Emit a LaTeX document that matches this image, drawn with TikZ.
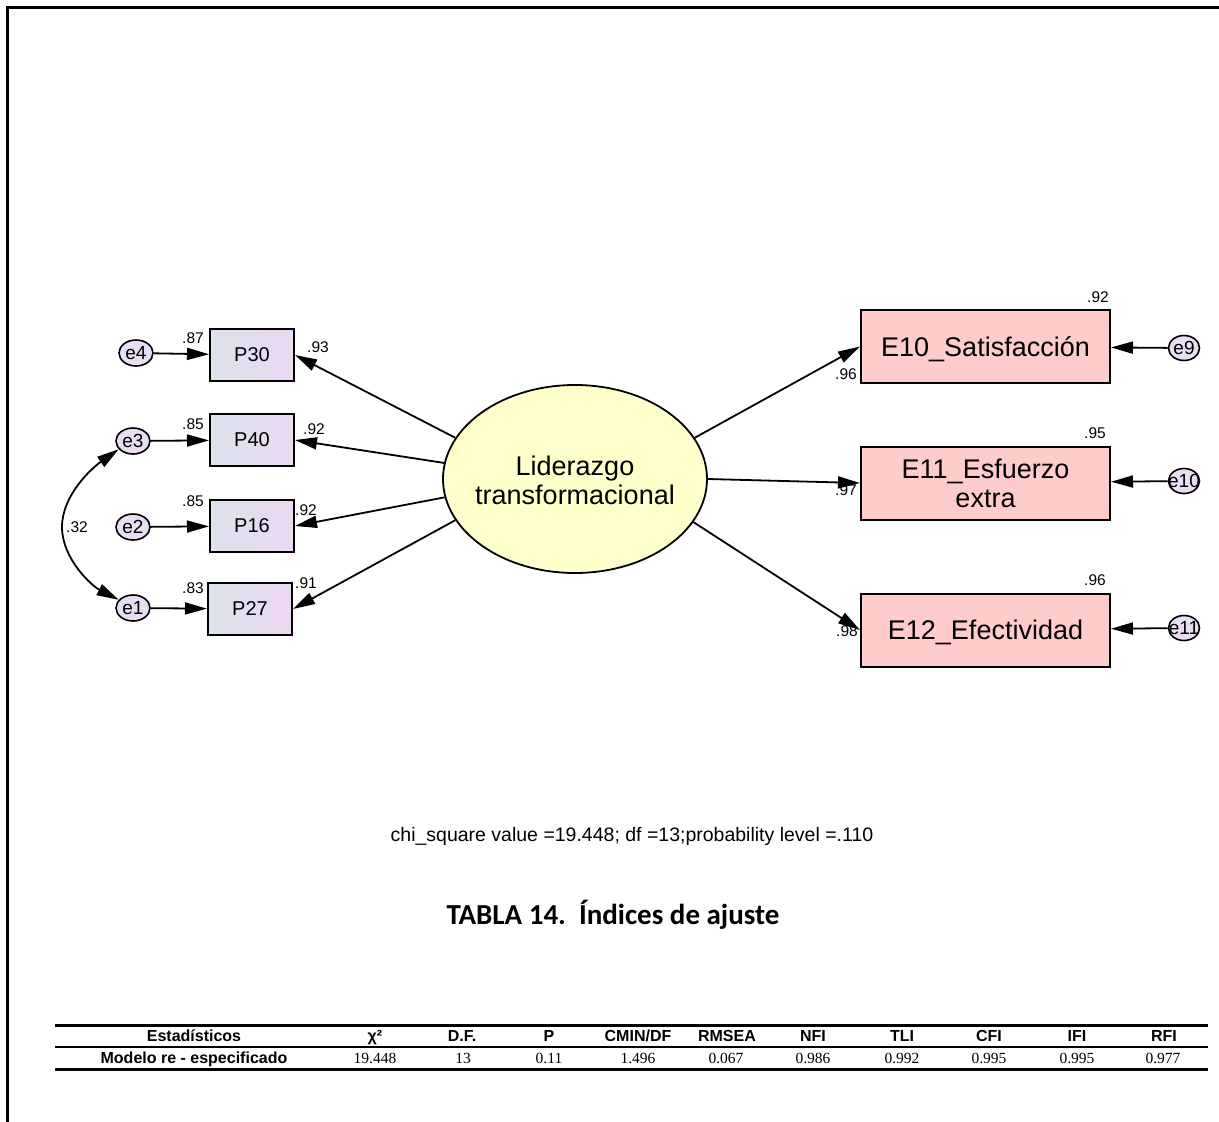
\documentclass[tikz,border=0pt]{standalone}
\usepackage{fontspec}
\setmainfont{Liberation Sans}
\newfontfamily\timesf{Liberation Serif}
\newfontfamily\carlitof{Carlito}
\usetikzlibrary{arrows.meta,shapes.geometric}
\definecolor{pleft}{HTML}{DCE3EC}
\definecolor{pright}{HTML}{ECD8F2}
\definecolor{errc}{HTML}{E8DDF3}
\definecolor{pinkc}{HTML}{FFCCCC}
\definecolor{yelc}{HTML}{FFFFCC}
\begin{document}
\begin{tikzpicture}[x=1pt,y=-1pt,
  obs/.style={draw, line width=2pt, minimum width=84pt, minimum height=52pt, inner sep=0pt, left color=pleft, right color=pright, font=\fontsize{20}{22}\selectfont},
  ebox/.style={draw, line width=2pt, minimum width=249pt, minimum height=73pt, inner sep=0pt, fill=pinkc, align=center, font=\fontsize{27}{29}\selectfont},
  err/.style={draw, ellipse, line width=1.6pt, fill=errc, minimum width=34pt, minimum height=26pt, inner sep=0pt},
  errtxt/.style={inner sep=0pt, font=\fontsize{19}{20}\selectfont},
  lat/.style={draw, ellipse, line width=1.8pt, fill=yelc, minimum width=264pt, minimum height=188pt, inner sep=0pt},
  lattxt/.style={inner sep=0pt, align=center, font=\fontsize{27}{29}\selectfont},
  coef/.style={inner sep=0pt, font=\fontsize{15.5}{17}\selectfont},
  arr/.style={line width=1.8pt, -{Triangle[length=22pt,width=12pt]}},
  cov/.style={line width=1.8pt, {Triangle[length=22pt,width=12pt]}-{Triangle[length=22pt,width=12pt]}},
  hd/.style={anchor=base, inner sep=0pt, font=\fontsize{16}{18}\selectfont\bfseries},
  vl/.style={anchor=base, inner sep=0pt, font=\timesf\fontsize{15.5}{17}\selectfont},
]
\useasboundingbox (0,0) rectangle (1219,1122);
% frame
\draw[line width=3pt] (7,1122) -- (7,7) -- (1219,7);

% latent
\node[lat] (F) at (575,479) {};
\node[lattxt] (Ft) at (575,480) {Liderazgo\\transformacional};

% observed left
\node[obs] (P30) at (252,355) {P30};
\node[obs] (P40) at (252,440) {P40};
\node[obs] (P16) at (252,526) {P16};
\node[obs] (P27) at (250,609) {P27};

% errors left
\node[err] (e4) at (136,353) {};
\node[errtxt] (e4t) at (e4) {e4};
\node[err] (e3) at (133,441) {};
\node[errtxt] (e3t) at (e3) {e3};
\node[err] (e2) at (133,527) {};
\node[errtxt] (e2t) at (e2) {e2};
\node[err] (e1) at (133,608) {};
\node[errtxt] (e1t) at (e1) {e1};

% right boxes
\node[ebox, text height=19.5pt, text depth=0pt] (E10) at (985.5,346.5) {E10\_Satisfacción};
\node[ebox] (E11) at (985.5,483) {E11\_Esfuerzo\\extra};
\node[ebox, text height=19.5pt, text depth=0pt] (E12) at (985.5,630) {E12\_Efectividad};

% errors right
\node[err, minimum width=31pt, minimum height=25pt] (e9) at (1184,348) {};
\node[errtxt] (e9t) at (e9) {e9};
\node[err, minimum width=31pt, minimum height=25pt] (e10) at (1184,481) {};
\node[errtxt] (e10t) at (e10) {e10};
\node[err, minimum width=31pt, minimum height=25pt] (e11) at (1184,628) {};
\node[errtxt] (e11t) at (e11) {e11};

% connectors
\draw[arr] (e4) -- (P30);
\draw[arr] (e3) -- (P40);
\draw[arr] (e2) -- (P16);
\draw[arr] (e1) -- (P27);
\draw[arr] (F.161) -- (P30.east);
\draw[arr] (F.173) -- (P40.east);
\draw[arr] (F.188) -- (P16.east);
\draw[arr] (F.199) -- (P27.east);
\draw[arr] (F.19) -- (E10.west);
\draw[arr] (F.0) -- (E11.west);
\draw[arr] (F.340) -- (E12.west);
\draw[arr] (e9) -- (E10);
\draw[arr] (e10) -- (E11);
\draw[arr] (e11) -- (E12);
\coordinate (cmid) at (62,527);
\draw[cov] (e3.210) .. controls (92,468) and (62,495) .. (cmid) .. controls (62,559) and (92,586) .. (e1.150);

% coefficients
\node[coef] (c1) at (193,338) {.87};
\node[coef] (c2) at (318,347) {.93};
\node[coef] (c3) at (193,424) {.85};
\node[coef] (c4) at (314,429) {.92};
\node[coef] (c5) at (193,501) {.85};
\node[coef] (c6) at (306,510) {.92};
\node[coef] (c7) at (193,588) {.83};
\node[coef] (c8) at (306,583) {.91};
\node[coef] (c9) at (77,527) {.32};
\node[coef] (c10) at (1098,297) {.92};
\node[coef] (c11) at (846,374) {.96};
\node[coef] (c12) at (1095,433) {.95};
\node[coef] (c13) at (846,490) {.97};
\node[coef] (c14) at (1095,580) {.96};
\node[coef] (c15) at (847,631) {.98};

% texts
\node[inner sep=0pt, font=\fontsize{19.5}{21}\selectfont] (chi) at (632,836) {chi\_square value =19.448; df =13;probability level =.110};
\node[inner sep=0pt, font=\carlitof\bfseries\fontsize{29}{31}\selectfont] (title) at (613,915) {TABLA 14.\ \ Índices de ajuste};

% table
\draw[line width=3pt] (55,1025) -- (1208,1025);
\draw[line width=2pt] (55,1047) -- (1208,1047);
\draw[line width=3pt] (55,1069) -- (1208,1069);
\node[hd] (h1) at (194,1041.5) {Estadísticos};
\node[hd] (h2) at (375,1041.5) {χ²};
\node[hd] (h3) at (462,1041.5) {D.F.};
\node[hd] (h4) at (549,1041.5) {P};
\node[hd] (h5) at (638,1041.5) {CMIN/DF};
\node[hd] (h6) at (727,1041.5) {RMSEA};
\node[hd] (h7) at (813,1041.5) {NFI};
\node[hd] (h8) at (902,1041.5) {TLI};
\node[hd] (h9) at (989,1041.5) {CFI};
\node[hd] (h10) at (1077,1041.5) {IFI};
\node[hd] (h11) at (1164,1041.5) {RFI};
\node[hd] (r1) at (194,1063.5) {Modelo re - especificado};
\node[vl] (v2) at (375,1063.5) {19.448};
\node[vl] (v3) at (463,1063.5) {13};
\node[vl] (v4) at (549,1063.5) {0.11};
\node[vl] (v5) at (638,1063.5) {1.496};
\node[vl] (v6) at (726,1063.5) {0.067};
\node[vl] (v7) at (813,1063.5) {0.986};
\node[vl] (v8) at (902,1063.5) {0.992};
\node[vl] (v9) at (989,1063.5) {0.995};
\node[vl] (v10) at (1077,1063.5) {0.995};
\node[vl] (v11) at (1163,1063.5) {0.977};
\end{tikzpicture}
\end{document}
